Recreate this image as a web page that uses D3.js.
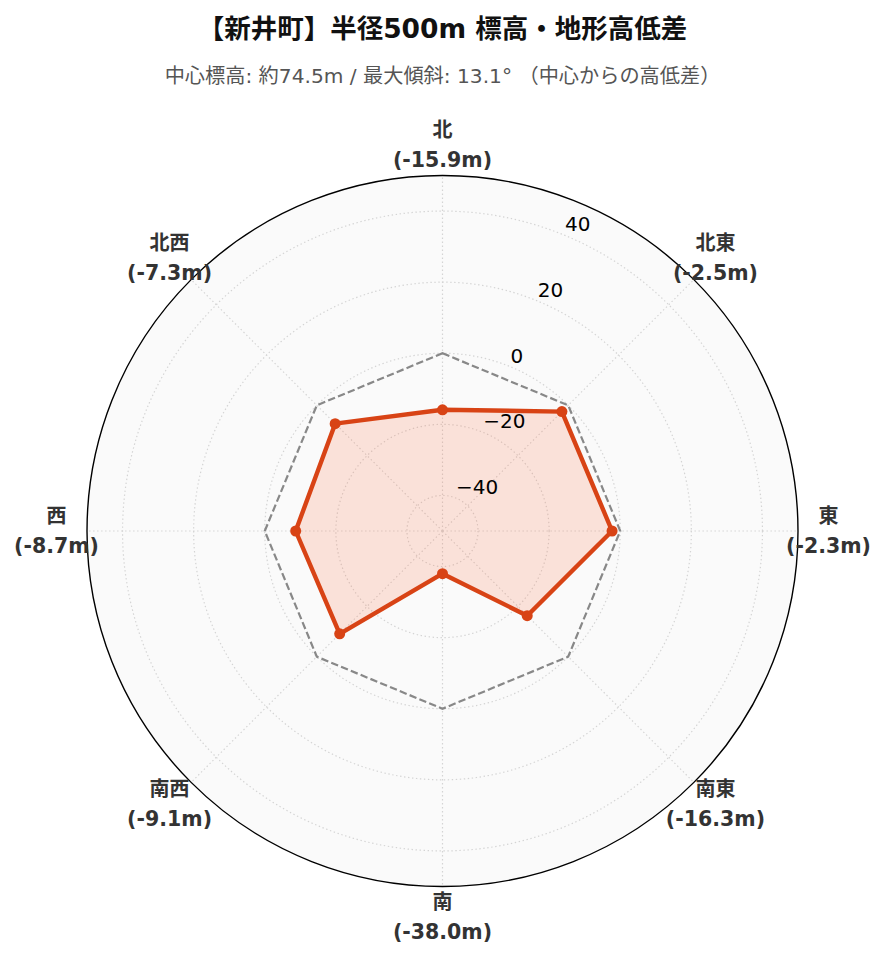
<!DOCTYPE html>
<html>
<head>
<meta charset="utf-8">
<script src="https://cdn.jsdelivr.net/npm/d3@7"></script>
<style>
  html, body { margin: 0; padding: 0; background: #fff; }
  svg { display: block; font-family: "DejaVu Sans", "Noto Sans CJK JP", sans-serif; }
</style>
</head>
<body>
<svg id="chart" width="885" height="962"></svg>
<script>
// 方位と中心からの高低差 (m)
const directions = ["北", "北東", "東", "南東", "南", "南西", "西", "北西"];
const diffs = [-15.9, -2.5, -2.3, -16.3, -38.0, -9.1, -8.7, -7.3];
const radialTicks = [-40, -20, 0, 20, 40];
const radialDomain = [-50, 50];

const titleText = "【新井町】半径500m 標高・地形高低差";
const subtitleText = "中心標高: 約74.5m / 最大傾斜: 13.1° （中心からの高低差）";

const W = 885, H = 962;
const cx = 442.5, cy = 531, R = 355.5;
const LINE = "#d84315";
const FILL = "#ff5722";

const svg = d3.select("#chart");
const g = svg.append("g").attr("transform", `translate(${cx},${cy})`);

const r = d3.scaleLinear().domain(radialDomain).range([0, R]);
const angle = d3.scalePoint().domain(directions).range([0, 2 * Math.PI * 7 / 8]);

// 北を上、時計回り
const px = (d, v) => r(v) * Math.sin(angle(d));
const py = (d, v) => -r(v) * Math.cos(angle(d));

// 背景
g.append("circle").attr("r", R).attr("fill", "#fafafa");

// グリッド（同心円）
g.selectAll("circle.grid")
  .data(radialTicks)
  .join("circle")
    .attr("class", "grid")
    .attr("r", (d) => r(d))
    .attr("fill", "none")
    .attr("stroke", "#d4d4d4")
    .attr("stroke-width", 1.2)
    .attr("stroke-dasharray", "1.4 2.6");

// 放射線
g.selectAll("line.spoke")
  .data(directions)
  .join("line")
    .attr("class", "spoke")
    .attr("x1", 0).attr("y1", 0)
    .attr("x2", (d) => px(d, radialDomain[1]))
    .attr("y2", (d) => py(d, radialDomain[1]))
    .attr("stroke", "#d4d4d4")
    .attr("stroke-width", 1.2)
    .attr("stroke-dasharray", "1.4 2.6");

// 0m 基準線（破線）
const zeroLine = d3.line().x((d) => px(d, 0)).y((d) => py(d, 0)).curve(d3.curveLinearClosed);
g.append("path")
  .attr("d", zeroLine(directions))
  .attr("fill", "none")
  .attr("stroke", "#888")
  .attr("stroke-width", 2.2)
  .attr("stroke-dasharray", "7.4 3.2");

// 高低差の多角形
const pts = directions.map((d, i) => [px(d, diffs[i]), py(d, diffs[i])]);
const poly = d3.line().curve(d3.curveLinearClosed);
g.append("path")
  .attr("d", poly(pts))
  .attr("fill", FILL)
  .attr("fill-opacity", 0.15)
  .attr("stroke", "none");
g.append("path")
  .attr("d", poly(pts))
  .attr("fill", "none")
  .attr("stroke", LINE)
  .attr("stroke-width", 4.4)
  .attr("stroke-linejoin", "round");

g.selectAll("circle.pt")
  .data(pts)
  .join("circle")
    .attr("class", "pt")
    .attr("cx", (d) => d[0])
    .attr("cy", (d) => d[1])
    .attr("r", 5.5)
    .attr("fill", LINE);

// 半径方向の目盛りラベル（22.5°）
const tickAng = Math.PI / 8;
g.selectAll("text.rtick")
  .data(radialTicks)
  .join("text")
    .attr("class", "rtick")
    .attr("x", (d) => r(d) * Math.sin(tickAng))
    .attr("y", (d) => -r(d) * Math.cos(tickAng) - 4)
    .attr("text-anchor", "start")
    .attr("font-size", 20)
    .attr("fill", "#000")
    .text((d) => (d < 0 ? "\u2212" + Math.abs(d) : d));

// 外周
g.append("circle").attr("r", R).attr("fill", "none").attr("stroke", "#000").attr("stroke-width", 1.4);

// 方位ラベル
const labR = 386;
const lab = g.selectAll("g.dir")
  .data(directions)
  .join("g")
    .attr("class", "dir")
    .attr("transform", (d) => `translate(${labR * Math.sin(angle(d))},${-labR * Math.cos(angle(d))})`);
lab.append("text")
  .attr("y", -15)
  .attr("text-anchor", "middle")
  .attr("dominant-baseline", "central")
  .attr("font-size", 20)
  .attr("font-weight", "bold")
  .attr("fill", "#333")
  .text((d) => d);
lab.append("text")
  .attr("y", 15)
  .attr("text-anchor", "middle")
  .attr("dominant-baseline", "central")
  .attr("font-size", 20.5)
  .attr("font-weight", "bold")
  .attr("fill", "#333")
  .text((d, i) => `(${diffs[i].toFixed(1)}m)`);

// タイトル
svg.append("text")
  .attr("x", W / 2).attr("y", 28)
  .attr("text-anchor", "middle")
  .attr("dominant-baseline", "central")
  .attr("font-size", 26.5)
  .attr("font-weight", "bold")
  .attr("fill", "#111")
  .text(titleText);

svg.append("text")
  .attr("x", W / 2).attr("y", 76)
  .attr("text-anchor", "middle")
  .attr("dominant-baseline", "central")
  .attr("font-size", 20.2)
  .attr("fill", "#555")
  .text(subtitleText);
</script>
</body>
</html>
